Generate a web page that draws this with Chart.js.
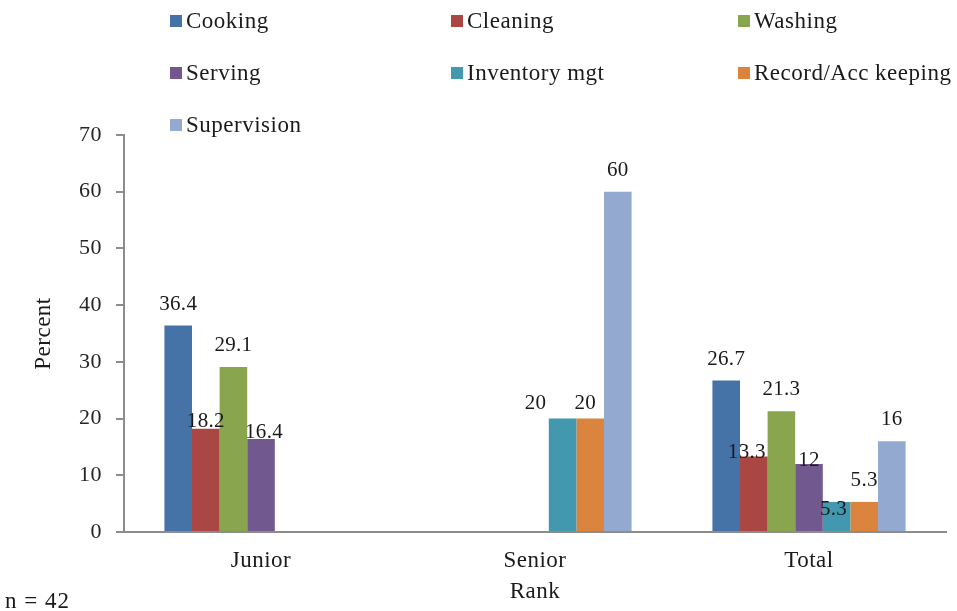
<!DOCTYPE html>
<html lang="en">
<head>
  <meta charset="UTF-8">
  <title>Duties by Rank</title>
  <script src="https://cdn.jsdelivr.net/npm/chart.js"></script>
  <style>
    body {
      margin: 0;
      background-color: #ffffff;
    }
    canvas {
      display: block;
    }
  </style>
</head>
<body>
  <canvas id="grafico" width="957" height="611"></canvas>

  <script>
    // ranks on the x axis
    const categories = ['Junior', 'Senior', 'Total'];

    // percent of staff doing each duty, per rank
    const cooking     = [36.4, 0, 26.7];
    const cleaning    = [18.2, 0, 13.3];
    const washing     = [29.1, 0, 21.3];
    const serving     = [16.4, 0, 12];
    const inventory   = [0, 20, 5.3];
    const record      = [0, 20, 5.3];
    const supervision = [0, 60, 16];

    const seriesNames = ['Cooking', 'Cleaning', 'Washing', 'Serving', 'Inventory mgt', 'Record/Acc keeping', 'Supervision'];
    const seriesValues = [cooking, cleaning, washing, serving, inventory, record, supervision];
    const seriesColors = ['#4572A7', '#AA4643', '#89A54E', '#71588F', '#4198AF', '#DB843D', '#93A9CF'];

    const serif = '"Liberation Serif", "Times New Roman", serif';
    Chart.defaults.font.family = serif;
    Chart.defaults.color = '#1a1a1a';

    // label spots that were moved by hand: [dx, lift above the bar]
    const labelNudge = {
      'Cleaning|Junior': [0, 2],
      'Cleaning|Total': [-7, -1],
      'Serving|Junior': [3, 1],
      'Serving|Total': [0, -2],
      'Inventory mgt|Senior': [-27, 10],
      'Inventory mgt|Total': [-3, -13],
      'Record/Acc keeping|Senior': [-5, 10]
    };

    // a touch of extra letter spacing for axis text
    const spacing = {
      id: 'spacing',
      beforeDraw(chart) {
        chart.ctx.letterSpacing = '0.5px';
      }
    };

    // value above each non-zero bar
    const valueLabels = {
      id: 'valueLabels',
      afterDatasetsDraw(chart) {
        const ctx = chart.ctx;
        ctx.save();
        ctx.letterSpacing = '0.3px';
        ctx.font = '21px ' + serif;
        ctx.fillStyle = '#1a1a1a';
        ctx.textAlign = 'center';
        ctx.textBaseline = 'alphabetic';
        chart.data.datasets.forEach((ds, i) => {
          chart.getDatasetMeta(i).data.forEach((bar, j) => {
            const v = ds.data[j];
            if (!v) return;
            const nudge = labelNudge[ds.label + '|' + chart.data.labels[j]] || [0, 16];
            ctx.fillText(String(v), bar.x + nudge[0], bar.y - nudge[1]);
          });
        });
        ctx.restore();
      }
    };

    // three-column legend above the plot, plus the sample size note
    const legendGrid = {
      id: 'legendGrid',
      afterDraw(chart) {
        const ctx = chart.ctx;
        const colX = [170, 451, 738];
        ctx.save();
        ctx.letterSpacing = '0.5px';
        ctx.font = '23px ' + serif;
        ctx.textBaseline = 'middle';
        ctx.textAlign = 'left';
        chart.data.datasets.forEach((ds, i) => {
          const x = colX[i % 3];
          const y = 21 + Math.floor(i / 3) * 52;
          ctx.fillStyle = ds.backgroundColor;
          ctx.fillRect(x, y - 6, 12, 12);
          ctx.fillStyle = '#1a1a1a';
          ctx.fillText(ds.label, x + 16, y + 1);
        });
        ctx.letterSpacing = '1px';
        ctx.fillText('n = 42', 5, 602);
        ctx.restore();
      }
    };

    const ctx = document.getElementById('grafico').getContext('2d');
    new Chart(ctx, {
      type: 'bar',
      data: {
        labels: categories,
        datasets: seriesNames.map((name, i) => ({
          label: name,
          data: seriesValues[i],
          backgroundColor: seriesColors[i],
          borderWidth: 0,
          categoryPercentage: 0.705,
          barPercentage: 1
        }))
      },
      options: {
        responsive: false,
        animation: false,
        layout: {
          padding: { top: 135, right: 11, left: 0, bottom: 0 }
        },
        plugins: {
          legend: { display: false },
          tooltip: { enabled: false }
        },
        scales: {
          x: {
            grid: { display: false, drawTicks: false },
            border: { display: true, color: '#8c8c8c', width: 2 },
            ticks: {
              font: { size: 23 },
              padding: 15
            },
            title: {
              display: true,
              text: 'Rank',
              font: { size: 23 },
              padding: { top: 0, bottom: 5 }
            },
            afterFit: s => { s.height = 79; }
          },
          y: {
            min: 0,
            max: 70,
            ticks: {
              stepSize: 10,
              font: { size: 22 },
              padding: 14,
              color: '#262626'
            },
            grid: {
              display: true,
              drawOnChartArea: false,
              tickLength: 8,
              color: '#8c8c8c',
              lineWidth: 2
            },
            border: { display: true, color: '#8c8c8c', width: 2 },
            title: {
              display: true,
              text: 'Percent',
              font: { size: 23 },
              padding: { top: 30, bottom: 0 }
            },
            afterFit: s => { s.width = 124; }
          }
        }
      },
      plugins: [spacing, valueLabels, legendGrid]
    });
  </script>
</body>
</html>
